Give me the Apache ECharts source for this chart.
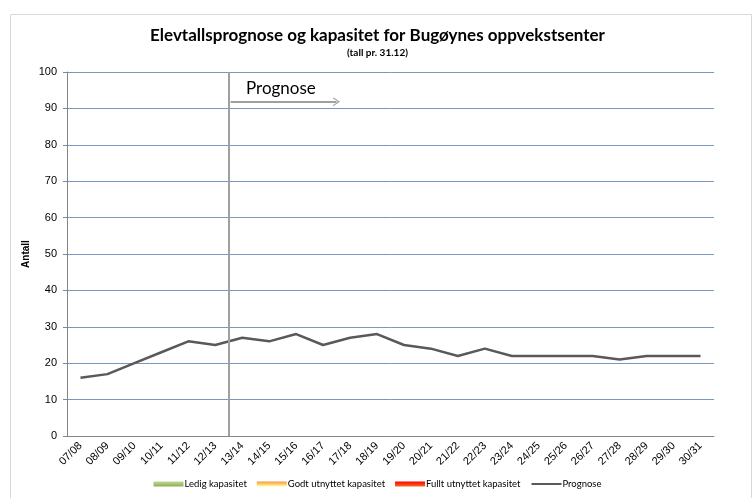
<!DOCTYPE html>
<html>
<head>
<meta charset="utf-8">
<script src="https://cdn.jsdelivr.net/npm/echarts@6/dist/echarts.min.js"></script>
<style>
  html, body { margin: 0; padding: 0; background: #fff; }
  #chart { width: 755px; height: 498px; }
</style>
</head>
<body>
<div id="chart"></div>
<script>
  // skoleår
  const years = ['07/08','08/09','09/10','10/11','11/12','12/13','13/14','14/15','15/16','16/17','17/18','18/19',
                 '19/20','20/21','21/22','22/23','23/24','24/25','25/26','26/27','27/28','28/29','29/30','30/31']
  // elevtall (prognose)
  const prognose = [16,17,20,23,26,25,27,26,28,25,27,28,25,24,22,24,22,22,22,22,21,22,22,22]
  // prognosestart: mellom 12/13 og 13/14, pil fram til ca 17/18
  const prognoseStart = 6
  const pilSlutt = 10
  const pilY = 91.8

  const chart = echarts.init(document.getElementById('chart'))

  const grad = (a, b) => new echarts.graphic.LinearGradient(0, 0, 0, 1, [{offset: 0, color: a}, {offset: 1, color: b}])
  const font = 'Liberation Sans, Arial, sans-serif'

  chart.setOption({
    backgroundColor: '#fff',
    animation: false,
    title: {
      text: 'Elevtallsprognose og kapasitet for Bugøynes oppvekstsenter',
      subtext: '(tall pr. 31.12)',
      left: 'center',
      top: 22,
      itemGap: 4,
      textStyle: {fontFamily: 'Lato, sans-serif', fontWeight: 'bold', fontSize: 17, color: '#000'},
      subtextStyle: {fontFamily: 'Lato, sans-serif', fontWeight: 'bold', fontSize: 10, color: '#000'}
    },
    legend: {
      bottom: 4,
      left: 'center',
      itemWidth: 30,
      itemHeight: 5,
      itemGap: 10,
      textStyle: {fontFamily: 'Lato, sans-serif', fontSize: 9.5, color: '#000', padding: [0, 0, 0, -4]},
      data: [
        {name: 'Ledig kapasitet', icon: 'rect'},
        {name: 'Godt utnyttet kapasitet', icon: 'rect'},
        {name: 'Fullt utnyttet kapasitet', icon: 'rect'},
        {name: 'Prognose', itemStyle: {opacity: 0}}
      ]
    },
    grid: {left: 67, right: 41, top: 72, bottom: 62},
    xAxis: [{
      type: 'category',
      data: years,
      boundaryGap: true,
      axisLine: {lineStyle: {color: '#868686'}},
      axisTick: {interval: 0, length: 4, lineStyle: {color: '#868686'}},
      axisLabel: {interval: 0, rotate: 45, fontFamily: font, fontSize: 11, color: '#000', margin: 8}
    }, {
      type: 'value',
      min: 0, max: years.length,
      show: false
    }],
    yAxis: {
      type: 'value',
      min: 0, max: 100, interval: 10,
      name: 'Antall',
      nameLocation: 'middle',
      nameGap: 36,
      nameMoveOverlap: false,
      nameRotate: 90,
      nameTextStyle: {fontFamily: font, fontWeight: 'bold', fontSize: 10, color: '#000'},
      axisLine: {show: true, lineStyle: {color: '#868686'}},
      axisTick: {show: true, length: 4, lineStyle: {color: '#868686'}},
      axisLabel: {fontFamily: font, fontSize: 11, color: '#000', margin: 10},
      splitLine: {lineStyle: {color: '#7B96C0', width: 1}}
    },
    series: [
      {name: 'Ledig kapasitet', type: 'bar', data: [], itemStyle: {color: grad('#C3D69B', '#8CB04F')}},
      {name: 'Godt utnyttet kapasitet', type: 'bar', data: [], itemStyle: {color: grad('#F79646', '#FFFF99')}},
      {name: 'Fullt utnyttet kapasitet', type: 'bar', data: [], itemStyle: {color: grad('#FF0000', '#F07020')}},
      {
        name: 'Prognose', type: 'line', data: prognose,
        symbol: 'none',
        lineStyle: {color: '#595959', width: 2.5},
        itemStyle: {color: '#595959'}
      },
      {
        name: 'markering', type: 'line', xAxisIndex: 1, data: [],
        silent: true,
        markLine: {
          silent: true,
          animation: false,
          label: {show: false},
          data: [
            [{coord: [prognoseStart, 0], symbol: 'none'}, {coord: [prognoseStart, 100], symbol: 'none'}],
            [{coord: [prognoseStart + 0.07, pilY], symbol: 'none'},
             {coord: [pilSlutt, pilY], symbol: 'path://M0,10 L5,0 L10,10 L8.6,10 L5,2.8 L1.4,10 Z', symbolSize: [9, 7]}]
          ],
          lineStyle: {type: 'solid', color: '#A0A0A0', width: 2}
        }
      }
    ],
    graphic: [
      {type: 'rect', left: 8, top: 12, shape: {width: 741, height: 490}, style: {fill: 'none', stroke: '#D9D9D9', lineWidth: 1}},
      {type: 'text', left: 246, top: 80, style: {text: 'Prognose', fontFamily: 'Lato, sans-serif', fontSize: 17, fill: '#000'}}
    ]
  })
</script>
</body>
</html>
